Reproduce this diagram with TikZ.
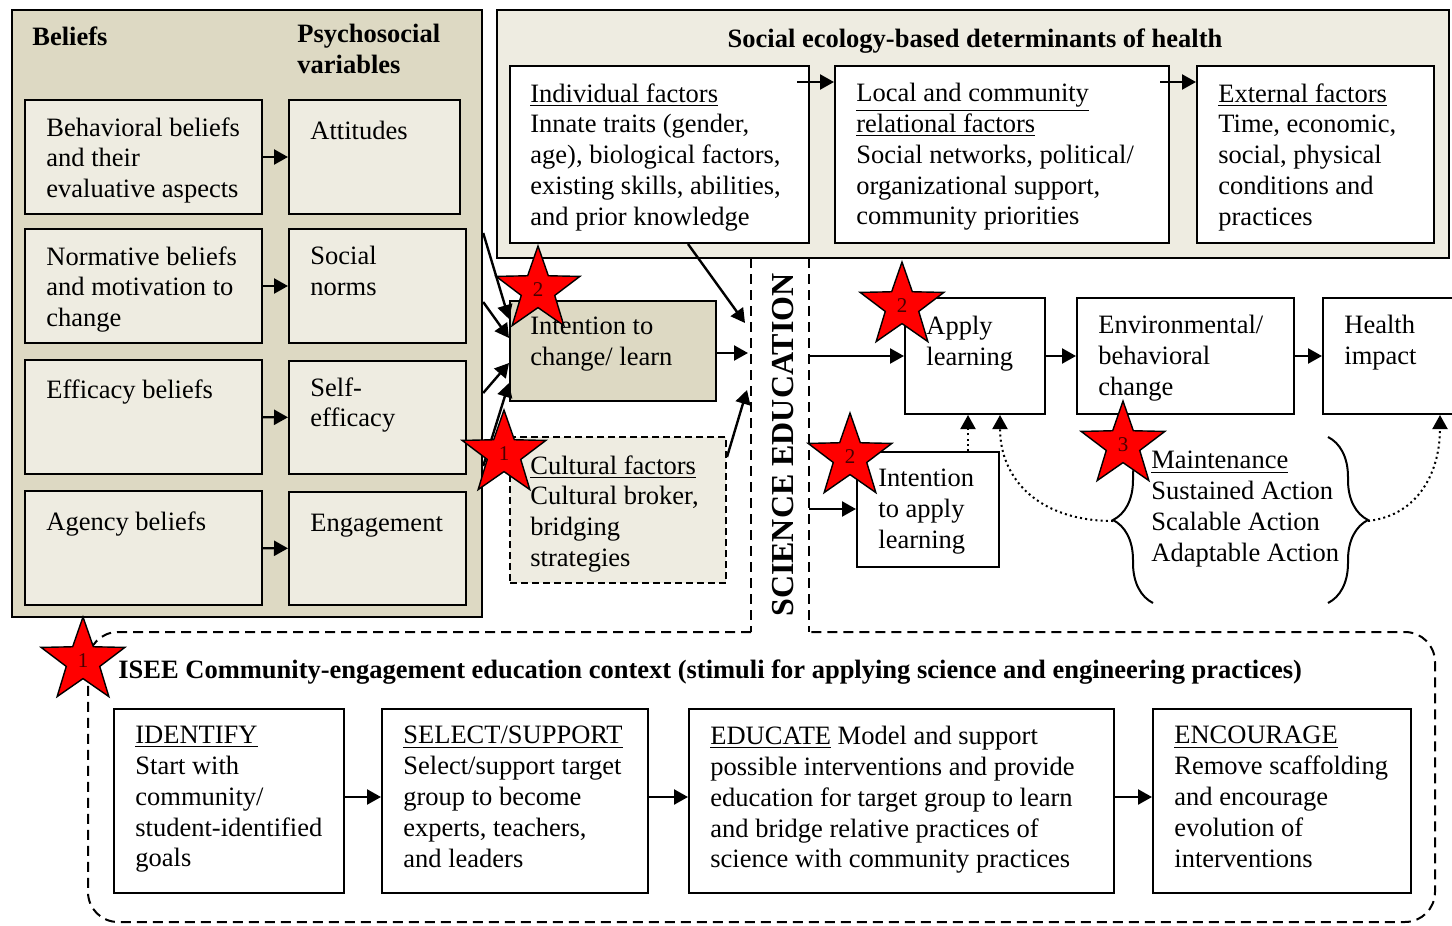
\documentclass[tikz,border=0pt]{standalone}
\usepackage{fontspec}
\setmainfont{Liberation Serif}
\usetikzlibrary{arrows.meta, shapes.geometric, decorations.pathreplacing, fit}

\definecolor{tanlight}{HTML}{EEECE1}
\definecolor{tandark}{HTML}{DDD9C3}
\definecolor{starnum}{HTML}{4A0000}

\newcommand{\bodyfont}{\fontsize{13.25}{15.4}\selectfont}

\tikzset{
  box/.style={draw, line width=1pt, inner sep=0pt, fill=white},
  txt/.style={font=\bodyfont, align=left, inner sep=0pt, anchor=north west, yshift=-1.5pt, execute at begin node=\strut},
  arr/.style={line width=1.2pt, -{Triangle[length=7pt, width=7.5pt]}},
  dotarr/.style={line width=1pt, dash pattern=on 1pt off 1.6pt, -{Triangle[length=7pt, width=7.5pt]}},
  dashln/.style={line width=1pt, dash pattern=on 5pt off 3pt},
  redstar/.style={star, star points=5, star point ratio=2.5, minimum size=44pt, inner sep=0pt,
    draw, line width=0.7pt, fill=red, font=\fontsize{10.5}{11}\selectfont, text=starnum},
}

\begin{document}
\begin{tikzpicture}[x=0.5pt, y=-0.5pt]
    \useasboundingbox (0,0) rectangle (1452,926);
    \clip (0,0) rectangle (1452,926);

    % beliefs and psychosocial variables
    \node[box, fill=tandark, line width=1.2pt, fit={(12,10) (482,617)}] (lp) {};
    \node[txt, font=\bodyfont\bfseries] (bel) at (32,21) {Beliefs};
    \node[txt, font=\bodyfont\bfseries] (psy) at (297,21) {Psychosocial\\variables};

    \node[box, fill=tanlight, fit={(25,100) (262,214)}] (bb) {};
    \node[box, fill=tanlight, fit={(289,100) (460,214)}] (att) {};
    \node[box, fill=tanlight, fit={(25,229) (262,343)}] (nb) {};
    \node[box, fill=tanlight, fit={(289,229) (466,343)}] (sn) {};
    \node[box, fill=tanlight, fit={(25,360) (262,474)}] (eb) {};
    \node[box, fill=tanlight, fit={(289,361) (466,474)}] (se) {};
    \node[box, fill=tanlight, fit={(25,491) (262,605)}] (ab) {};
    \node[box, fill=tanlight, fit={(289,492) (466,605)}] (eng) {};

    \node[txt] (bb-t) at (46,114) {Behavioral beliefs\\and their\\evaluative aspects};
    \node[txt] (att-t) at (310,115) {Attitudes};
    \node[txt] (nb-t) at (46,243) {Normative beliefs\\and motivation to\\change};
    \node[txt] (sn-t) at (310,243) {Social\\norms};
    \node[txt] (eb-t) at (46,374) {Efficacy beliefs};
    \node[txt] (se-t) at (310,374) {Self-\\efficacy};
    \node[txt] (ab-t) at (46,506) {Agency beliefs};
    \node[txt] (eng-t) at (310,507) {Engagement};

    \foreach \a/\b in {bb/att, nb/sn, eb/se, ab/eng}
      \draw[arr] (\a) -- (\b);

    % social ecology panel
    \node[box, fill=tanlight, fit={(497,10) (1449,258)}] (sp) {};
    \node[txt, anchor=north, font=\bodyfont\bfseries] (sp-t) at (975,23) {Social ecology-based determinants of health};
    \node[box, fit={(510,66) (809,243)}] (ind) {};
    \node[box, fit={(835,66) (1169,243)}] (loc) {};
    \node[box, fit={(1197,66) (1434,243)}] (ext) {};

    \node[txt] (ind-t) at (530,80) {\underline{Individual factors}\\Innate traits (gender,\\age), biological factors,\\existing skills, abilities,\\and prior knowledge};
    \node[txt] (loc-t) at (856,80) {\underline{Local and community}\\\underline{relational factors}\\Social networks, political/\\organizational support,\\community priorities};
    \node[txt] (ext-t) at (1218,80) {\underline{External factors}\\Time, economic,\\social, physical\\conditions and\\practices};

    \coordinate (ind-a) at (797,82);
    \coordinate (loc-a) at (1160,82);
    \draw[arr] (ind-a) -- (loc.west |- ind-a);
    \draw[arr] (loc-a) -- (ext.west |- loc-a);

    % intention and culture
    \node[box, fill=tandark, fit={(510,301) (716,401)}] (icl) {};
    \node[txt] (icl-t) at (530,314) {Intention to\\change/ learn};
    \node[box, fill=tanlight, dash pattern=on 3.5pt off 2pt, fit={(510,437) (726,583)}] (cul) {};
    \node[txt] (cul-t) at (530,452) {\underline{Cultural factors}\\Cultural broker,\\bridging\\strategies};

    \draw[arr] (lp.east |- 0,233) -- (icl.west |- 0,319);
    \draw[arr] (lp.east |- 0,302) -- (icl.west |- 0,338);
    \draw[arr] (lp.east |- 0,393) -- (icl.west |- 0,363);
    \draw[arr] (lp.east |- 0,466) -- (icl.west |- 0,383);

    % science education band
    \draw[dashln] (751,258) -- (751,632);
    \draw[dashln] (809,258) -- (809,632);
    \node[rotate=90, font=\fontsize{16}{18}\selectfont\bfseries] (sci) at (783,445) {SCIENCE EDUCATION};

    \coordinate (se-a) at (745,323);
    \coordinate (se-b) at (748,353);
    \coordinate (se-c) at (747,390);
    \draw[arr] (ind.south -| 688,0) -- (se-a);
    \draw[arr] (icl.east |- se-b) -- (se-b);
    \draw[arr] (cul.east |- 0,457) -- (se-c);

    % outcomes
    \node[box, fit={(905,298) (1045,414)}] (app) {};
    \node[box, fit={(1077,298) (1294,414)}] (env) {};
    \node[box, fit={(1323,298) (1480,414)}] (hlt) {};
    \node[box, fit={(857,452) (999,567)}] (iap) {};

    \node[txt] (app-t) at (926,313) {Apply\\learning};
    \node[txt] (env-t) at (1098,312) {Environmental/\\behavioral\\change};
    \node[txt] (hlt-t) at (1344,312) {Health\\impact};
    \node[txt] (iap-t) at (878,466) {Intention\\to apply\\learning};

    \coordinate (sa) at (809,356);
    \coordinate (sb) at (809,509);
    \draw[arr] (sa) -- (app.west |- sa);
    \draw[arr] (sb) -- (iap.west |- sb);
    \draw[arr] (app) -- (env);
    \draw[arr] (env) -- (hlt);
    \draw[dotarr] (iap.north -| 968,0) -- (app.south -| 968,0);

    % maintenance
    \node[txt] (mnt) at (1151,448) {\underline{Maintenance}\\Sustained Action\\Scalable Action\\Adaptable Action};
    \draw[line width=1pt, decorate, decoration={brace, amplitude=20pt}] (1153,603) -- (1153,437);
    \draw[line width=1pt, decorate, decoration={brace, amplitude=20pt}] (1328,437) -- (1328,603);
    \coordinate (lb-t) at (1113,521);
    \coordinate (rb-t) at (1368,521);
    \draw[dotarr] (lb-t) .. controls (1040,521) and (1000,480) .. (app.south -| 1000,0);
    \draw[dotarr] (rb-t) .. controls (1420,515) and (1440,470) .. (hlt.south -| 1440,0);

    % ISEE context
    \draw[dashln, rounded corners=15pt] (751,632) -- (88,632) -- (88,922) -- (1435,922) -- (1435,632) -- (809,632);
    \node[txt, font=\bodyfont\bfseries] (isee-t) at (118,654) {ISEE Community-engagement education context (stimuli for applying science and engineering practices)};

    \node[box, fit={(114,709) (344,893)}] (idf) {};
    \node[box, fit={(382,709) (648,893)}] (sel) {};
    \node[box, fit={(689,709) (1114,893)}] (edu) {};
    \node[box, fit={(1153,709) (1411,893)}] (enc) {};

    \node[txt] (idf-t) at (135,723) {\underline{IDENTIFY}\\Start with\\community/\\student-identified\\goals};
    \node[txt] (sel-t) at (403,723) {\underline{SELECT/SUPPORT}\\Select/support target\\group to become\\experts, teachers,\\and leaders};
    \node[txt] (edu-t) at (710,723) {\underline{EDUCATE} Model and support\\possible interventions and provide\\education for target group to learn\\and bridge relative practices of\\science with community practices};
    \node[txt] (enc-t) at (1174,723) {\underline{ENCOURAGE}\\Remove scaffolding\\and encourage\\evolution of\\interventions};

    \foreach \a/\b in {idf/sel, sel/edu, edu/enc}
      \draw[arr] (\a.east |- 0,797) -- (\b.west |- 0,797);

    % stars
    \node[redstar] (st-icl) at (538,290) {2};
    \node[redstar] (st-cul) at (504,454) {1};
    \node[redstar] (st-app) at (902,306) {2};
    \node[redstar] (st-iap) at (850,457) {2};
    \node[redstar] (st-mnt) at (1123,445) {3};
    \node[redstar] (st-isee) at (83,661) {1};

\end{tikzpicture}
\end{document}
